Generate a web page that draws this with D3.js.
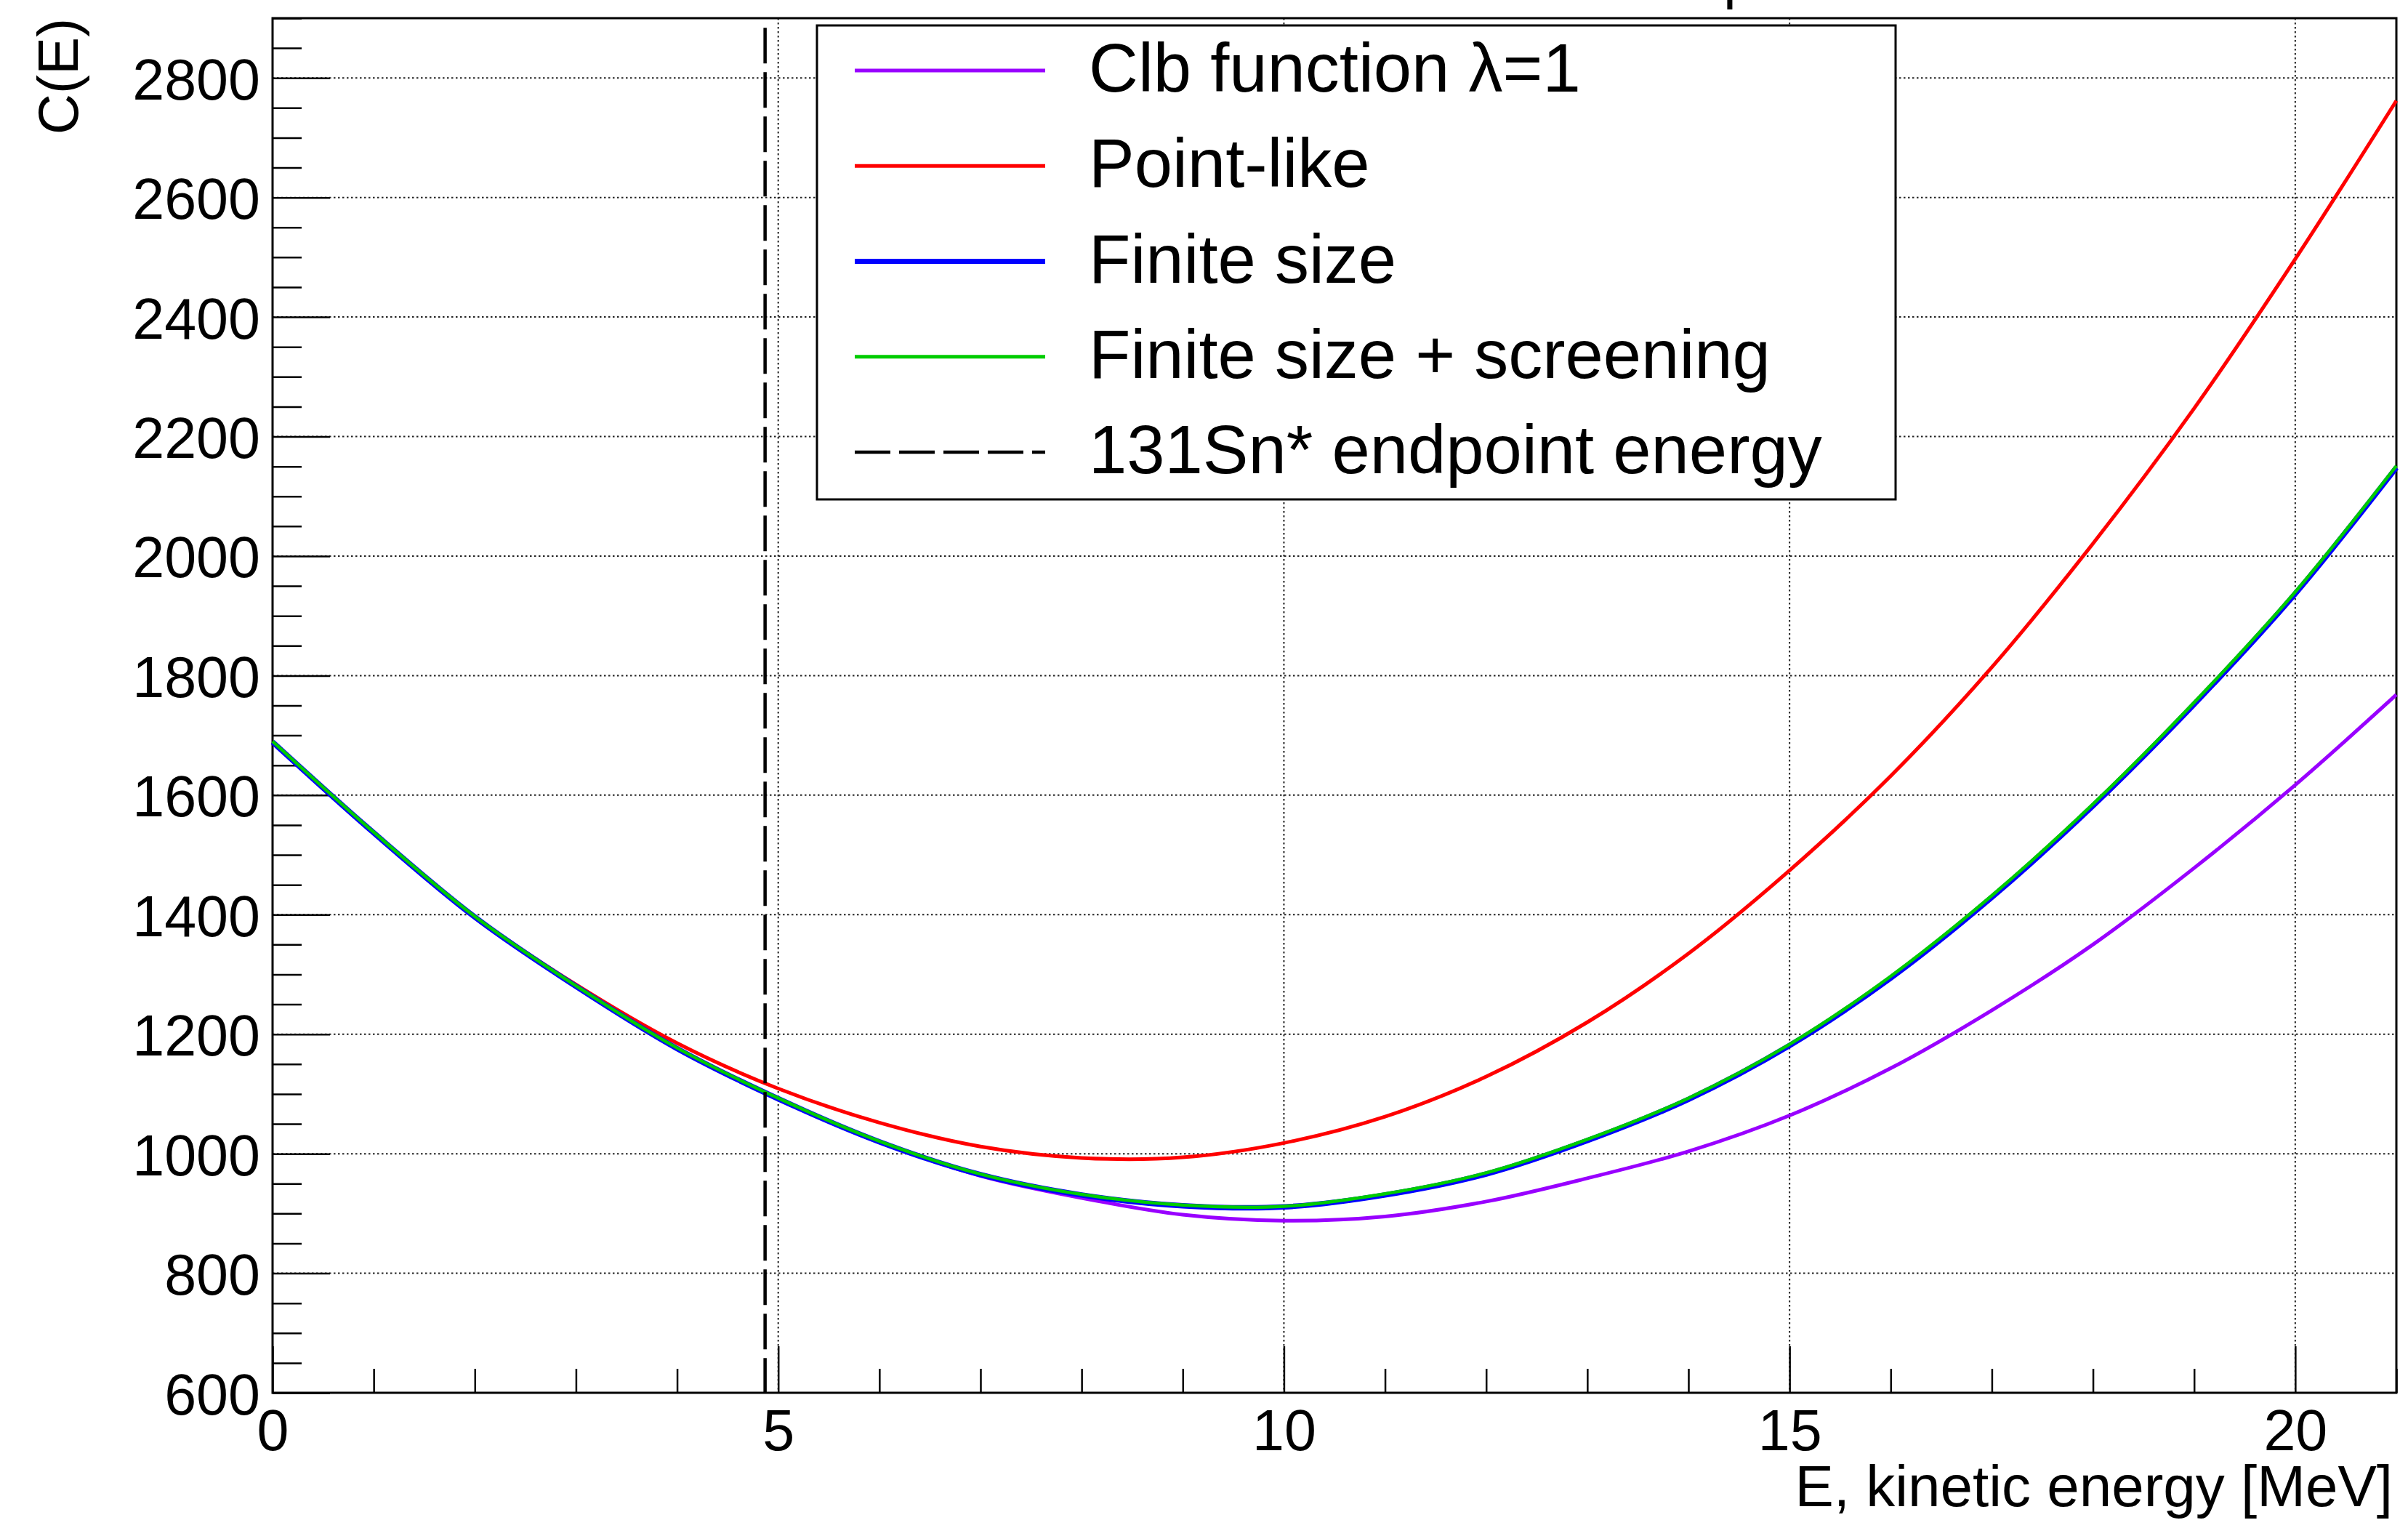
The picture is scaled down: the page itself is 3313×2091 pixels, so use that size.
<!DOCTYPE html>
<html>
<head>
<meta charset="utf-8">
<script src="https://cdn.jsdelivr.net/npm/d3@7"></script>
<style>
  html, body { margin: 0; padding: 0; background: #fff; }
  svg { display: block; font-family: "Liberation Sans", Arial, Helvetica, sans-serif; }
</style>
</head>
<body>
<svg id="chart" width="3313" height="2091"></svg>
<script>
// ---- data ----
const energy = [0,1,2,3,4,5,6,7,8,9,10,11,12,13,14,15,16,17,18,19,20,21];
const clbLambda1   = [1689,1537,1396,1280,1176,1092,1020,963,926,898,888,895,920,959,1004,1064,1143,1240,1350,1478,1617,1768];
const pointLike    = [1689,1537,1397,1283,1185,1109,1052,1012,993,994,1018,1062,1129,1220,1335,1474,1632,1814,2021,2247,2497,2762];
const finiteSize   = [1689,1537,1396,1280,1176,1092,1020,965,931,913,911,931,966,1022,1091,1181,1294,1429,1582,1752,1937,2148];
const finiteScreen = [1690,1538,1397,1281,1177,1093,1021,966,932,914,912,933,968,1024,1093,1183,1297,1432,1585,1755,1940,2151];
const endpointEnergy = 4.87;
const xMajorTicks = [0,5,10,15,20];
const yMajorTicks = [600,800,1000,1200,1400,1600,1800,2000,2200,2400,2600,2800];
const seriesNames = ["Clb function \u03bb=1","Point-like","Finite size","Finite size + screening","131Sn* endpoint energy"];
const xTitle = "E, kinetic energy [MeV]";
const yTitle = "C(E)";

// ---- layout ----
const svg = d3.select("#chart");
const L = 375, R = 3297, T = 25, B = 1916;
const x = d3.scaleLinear().domain([0, 21]).range([L, R]);
const y = d3.scaleLinear().domain([600, 2900]).range([B, T]);

// cut-off title fragment at the very top
svg.append("text").attr("x", 2371).attr("y", -4).attr("font-size", 80).text("p");

// grid
const grid = svg.append("g").attr("stroke", "#222").attr("stroke-width", 2).attr("stroke-dasharray", "2.5,3.5");
grid.selectAll("line.gx").data(xMajorTicks.filter(d => d > 0)).join("line")
  .attr("x1", d => x(d)).attr("x2", d => x(d)).attr("y1", T).attr("y2", B);
grid.selectAll("line.gy").data(yMajorTicks.filter(d => d > 600)).join("line")
  .attr("x1", L).attr("x2", R).attr("y1", d => y(d)).attr("y2", d => y(d));

// ticks via d3 axes
const xMinor = d3.range(0, 22).filter(d => d % 5 !== 0);
const yMinor = d3.range(650, 2901, 50).filter(d => d % 200 !== 0);

const gxMinor = svg.append("g").attr("transform", `translate(0,${B})`)
  .call(d3.axisBottom(x).tickValues(xMinor).tickSize(-33).tickFormat(""));
const gxMajor = svg.append("g").attr("transform", `translate(0,${B})`)
  .call(d3.axisBottom(x).tickValues(xMajorTicks).tickSize(-64).tickFormat(d3.format("d")));
const gyMinor = svg.append("g").attr("transform", `translate(${L},0)`)
  .call(d3.axisLeft(y).tickValues(yMinor).tickSize(-40).tickFormat(""));
const gyMajor = svg.append("g").attr("transform", `translate(${L},0)`)
  .call(d3.axisLeft(y).tickValues(yMajorTicks).tickSize(-79).tickFormat(d3.format("d")));

[gxMinor, gxMajor, gyMinor, gyMajor].forEach(g => {
  g.select(".domain").remove();
  g.selectAll(".tick line").attr("stroke", "#000").attr("stroke-width", 2.5);
  g.attr("font-family", null).attr("font-size", null);
});
gxMajor.selectAll(".tick text").attr("dy", null).attr("y", 79).attr("font-size", 79).attr("fill", "#000");
gyMajor.selectAll(".tick text").attr("dy", null).attr("x", -17).attr("y", 29).attr("font-size", 79).attr("fill", "#000");

// frame
svg.append("rect").attr("x", L).attr("y", T).attr("width", R - L).attr("height", B - T)
  .attr("fill", "none").attr("stroke", "#000").attr("stroke-width", 3);

// curves
const line = d3.line().x(d => x(d[0])).y(d => y(d[1])).curve(d3.curveCatmullRom.alpha(0.5));
const series = [
  {vals: clbLambda1, color: "#9900ff", w: 5},
  {vals: pointLike, color: "#ff0000", w: 5},
  {vals: finiteSize, color: "#0000ff", w: 7.5},
  {vals: finiteScreen, color: "#00cc00", w: 4.5}
];
const curves = svg.append("g").attr("fill", "none");
series.forEach(s => {
  curves.append("path").datum(energy.map((e, i) => [e, s.vals[i]]))
    .attr("d", line).attr("stroke", s.color).attr("stroke-width", s.w);
});

// endpoint energy dashed line
svg.append("line").attr("x1", x(endpointEnergy)).attr("x2", x(endpointEnergy))
  .attr("y1", y(2884)).attr("y2", B)
  .attr("stroke", "#000").attr("stroke-width", 4.5).attr("stroke-dasharray", "49,12");

// axis titles
svg.append("text").attr("x", 3292).attr("y", 2072).attr("text-anchor", "end")
  .attr("font-size", 80).text(xTitle);
svg.append("text").attr("transform", "translate(107,25) rotate(-90)").attr("text-anchor", "end")
  .attr("font-size", 78).text(yTitle);

// legend
const lg = svg.append("g");
lg.append("rect").attr("x", 1124).attr("y", 35).attr("width", 1484).attr("height", 652)
  .attr("fill", "#fff").attr("stroke", "#000").attr("stroke-width", 3);
const legendItems = [
  {name: seriesNames[0], color: "#9900ff", w: 5, dash: null},
  {name: seriesNames[1], color: "#ff0000", w: 5, dash: null},
  {name: seriesNames[2], color: "#0000ff", w: 7, dash: null},
  {name: seriesNames[3], color: "#00cc00", w: 5, dash: null},
  {name: seriesNames[4], color: "#000", w: 4.5, dash: "49,12"}
];
const rowY = d3.scaleLinear().domain([0, 4]).range([97, 622]);
legendItems.forEach((it, i) => {
  const yy = rowY(i);
  lg.append("line").attr("x1", 1176).attr("x2", 1438).attr("y1", yy).attr("y2", yy)
    .attr("stroke", it.color).attr("stroke-width", it.w).attr("stroke-dasharray", it.dash);
  lg.append("text").attr("x", 1498).attr("y", yy + 29).attr("font-size", 94).text(it.name);
});
</script>
</body>
</html>
